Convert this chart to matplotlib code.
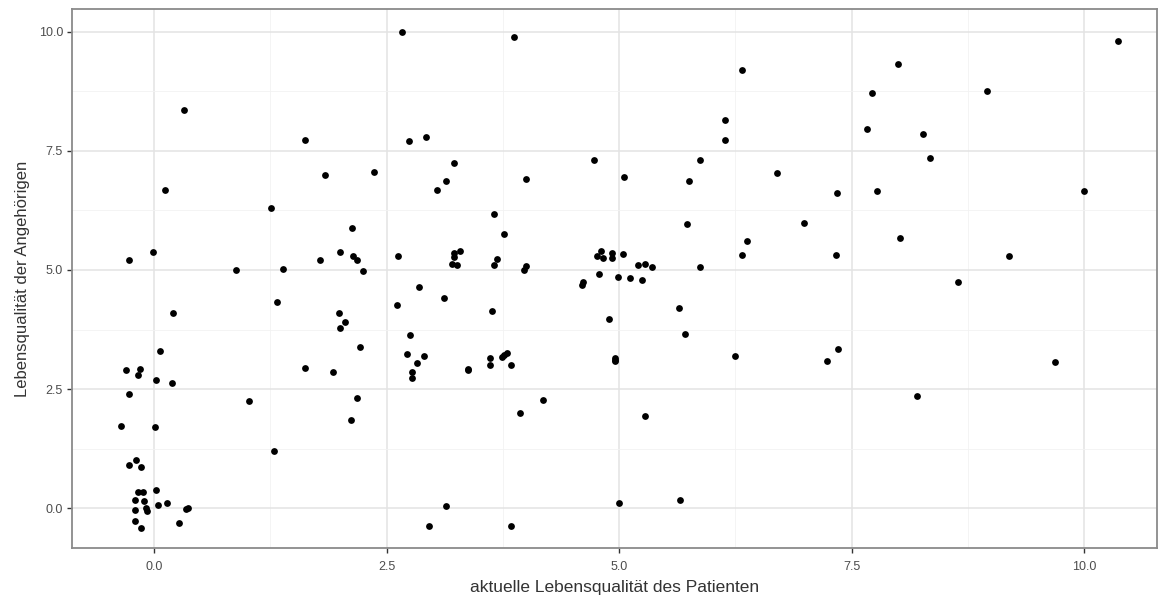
import matplotlib.pyplot as plt
from matplotlib.ticker import MultipleLocator

plt.rcParams['font.family'] = ['Liberation Sans', 'DejaVu Sans']

# aktuelle Lebensqualität des Patienten
patient = [
    0.32, 1.62, 1.84, 0.12, 1.26, 2.13, -0.27, -0.01, 2.00, 1.79,
    2.14, 2.18, 2.25, 0.88, 1.39,
    0.21, 0.06, -0.30, -0.15, -0.17, 0.02, 0.19, -0.27, -0.35, 0.01,
    -0.27, -0.19, -0.14, -0.17, -0.12, -0.20, -0.11, 0.02, -0.20, -0.09,
    -0.07, 0.04, 0.14, 0.35, 0.37, -0.20, -0.14, 0.27, 1.32, 1.02,
    1.29, 1.99, 2.05, 2.00, 2.21, 1.62, 1.92, 2.18, 2.12,
    2.67, 3.87, 2.74, 2.92, 2.37, 3.22, 3.14, 3.04, 4.00, 4.73,
    5.05, 3.66, 3.76, 2.62, 3.22, 3.29, 3.23, 3.20, 3.26, 3.69,
    3.66, 4.00, 3.98, 4.76, 4.81, 4.83, 4.92, 4.92, 5.04, 4.78,
    4.99, 5.12, 5.25, 5.20, 5.28, 5.35,
    2.61, 2.85, 3.12, 3.63, 2.75, 2.72, 2.90, 2.83, 2.77, 2.77,
    3.37, 3.38, 3.61, 3.61, 3.74, 3.76, 3.79, 3.84, 4.18, 3.93,
    3.14, 2.96, 3.84, 4.60, 4.61, 4.89, 4.96, 4.96, 4.95, 5.28,
    5.00,
    6.32, 6.14, 6.14, 5.87, 5.75, 6.70, 7.34, 5.73, 6.99, 6.37,
    6.32, 7.33, 5.87, 8.00, 7.72, 7.66, 8.26, 8.34, 7.77, 8.02,
    5.64, 5.71, 6.25, 7.23, 7.35, 8.20, 5.65,
    10.36, 8.95, 10.00, 9.19, 8.64, 9.68,
]

# Lebensqualität der Angehörigen
angehoerige = [
    8.36, 7.73, 7.00, 6.68, 6.30, 5.89, 5.22, 5.38, 5.38, 5.20,
    5.29, 5.20, 4.97, 5.00, 5.03,
    4.10, 3.30, 2.89, 2.92, 2.79, 2.69, 2.63, 2.40, 1.73, 1.70,
    0.90, 1.00, 0.87, 0.33, 0.33, 0.17, 0.15, 0.39, -0.03, 0.01,
    -0.06, 0.07, 0.10, -0.01, 0.01, -0.28, -0.41, -0.32, 4.33, 2.25,
    1.19, 4.10, 3.91, 3.78, 3.39, 2.95, 2.85, 2.31, 1.86,
    9.99, 9.90, 7.70, 7.79, 7.06, 7.24, 6.86, 6.67, 6.92, 7.31,
    6.96, 6.17, 5.76, 5.29, 5.36, 5.40, 5.28, 5.13, 5.10, 5.23,
    5.10, 5.09, 5.00, 5.29, 5.40, 5.26, 5.36, 5.26, 5.33, 4.91,
    4.85, 4.83, 4.80, 5.10, 5.13, 5.07,
    4.26, 4.65, 4.42, 4.13, 3.63, 3.24, 3.20, 3.05, 2.85, 2.73,
    2.89, 2.92, 3.15, 3.01, 3.17, 3.22, 3.25, 3.01, 2.28, 1.99,
    0.04, -0.38, -0.38, 4.69, 4.75, 3.97, 3.15, 3.08, 3.11, 1.93,
    0.11,
    9.20, 8.15, 7.73, 7.32, 6.87, 7.03, 6.62, 5.96, 5.98, 5.61,
    5.32, 5.32, 5.07, 9.32, 8.71, 7.96, 7.86, 7.35, 6.65, 5.67,
    4.20, 3.65, 3.20, 3.08, 3.34, 2.35, 0.17,
    9.81, 8.76, 6.66, 5.29, 4.74, 3.06,
]

fig = plt.figure(figsize=(11.62, 6.01), dpi=100)
ax = fig.add_axes([0.062, 0.088, 0.9337, 0.897])

ax.scatter(patient, angehoerige, s=24, color='black', linewidths=0, zorder=3)

ax.set_xlim(-0.88, 10.78)
ax.set_ylim(-0.84, 10.48)
ax.xaxis.set_major_locator(MultipleLocator(2.5))
ax.yaxis.set_major_locator(MultipleLocator(2.5))
ax.xaxis.set_minor_locator(MultipleLocator(1.25))
ax.yaxis.set_minor_locator(MultipleLocator(1.25))
ax.xaxis.set_major_formatter(lambda v, p: f"{v:.1f}")
ax.yaxis.set_major_formatter(lambda v, p: f"{v:.1f}")

# Gitter wie theme_bw
ax.grid(which='major', color='#E3E3E3', linewidth=1.1)
ax.grid(which='minor', color='#F2F2F2', linewidth=0.6)
ax.set_axisbelow(True)
for s in ax.spines.values():
    s.set_color('#8A8A8A')
    s.set_linewidth(1.3)

ax.tick_params(which='major', length=3.5, width=1, color='#333333',
               labelsize=9, labelcolor='#4D4D4D')
ax.tick_params(axis='x', pad=6)
ax.tick_params(axis='y', pad=3)
ax.tick_params(which='minor', length=0)

ax.set_xlabel("aktuelle Lebensqualität des Patienten", fontsize=12.5,
              color='#333333', labelpad=5)
ax.set_ylabel("Lebensqualität der Angehörigen", fontsize=12,
              color='#333333', labelpad=6)

fig.savefig("out.png", dpi=100)
